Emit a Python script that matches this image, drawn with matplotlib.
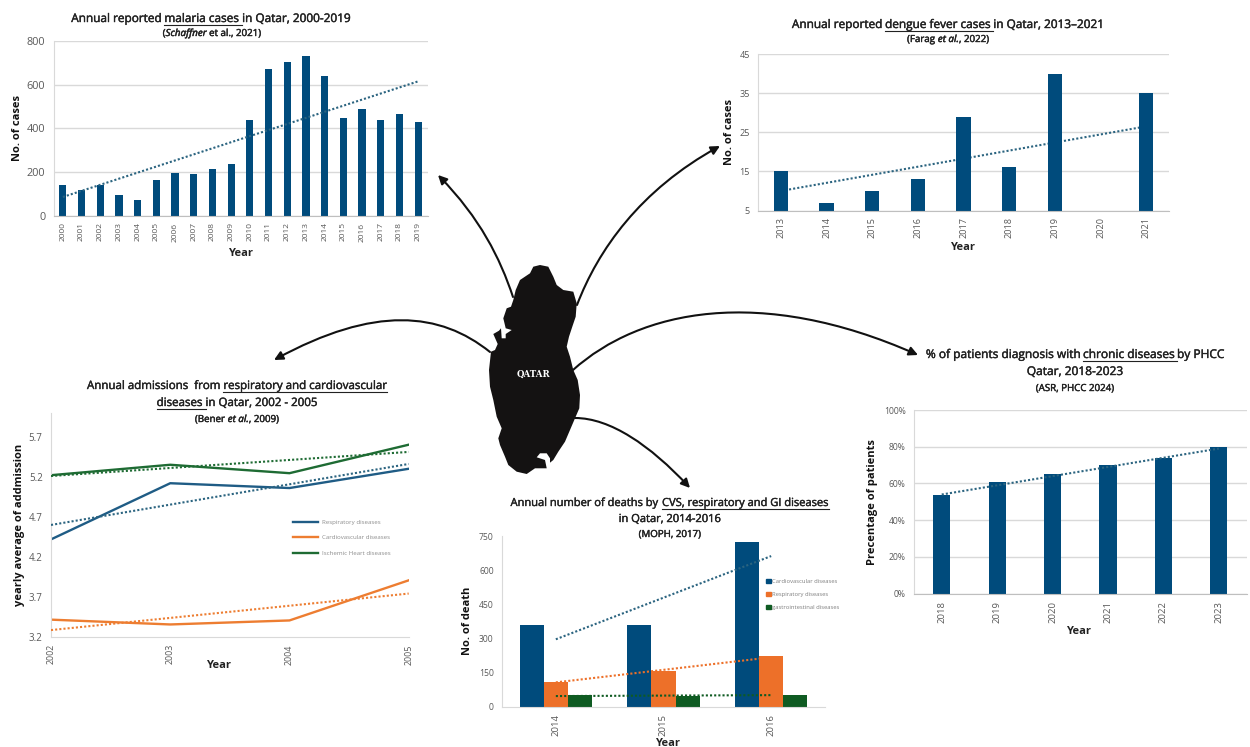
# Qatar disease burden overview: five small charts arranged around a map
import matplotlib
matplotlib.use('Agg')
import matplotlib.pyplot as plt
import matplotlib.patheffects as pe
from matplotlib.patches import FancyArrowPatch, Polygon, Patch
from matplotlib.path import Path

W, H = 1250, 747
FONT = 'Open Sans'
BLUE = '#004b7c'
ORANGE = '#ed7029'
GREEN = '#0f5b22'
TREND_BLUE = '#2b6480'
TICK = '#595959'
GRID = '#d9d9d9'

plt.rcParams['font.family'] = FONT

##################################################################
# data
malaria_years = ['2000', '2001', '2002', '2003', '2004', '2005', '2006', '2007', '2008', '2009',
                 '2010', '2011', '2012', '2013', '2014', '2015', '2016', '2017', '2018', '2019']
malaria_cases = [140, 115, 140, 95, 70, 165, 195, 190, 215, 235,
                 440, 670, 705, 730, 640, 445, 490, 440, 465, 430]
malaria_trend = [85, 615]

dengue_years = ['2013', '2014', '2015', '2016', '2017', '2018', '2019', '2020', '2021']
dengue_cases = [15, 7, 10, 13, 29, 16, 40, 0, 35]
dengue_trend = [10, 26.5]

admit_years = [2002, 2003, 2004, 2005]
admit_resp = [4.42, 5.12, 5.06, 5.30]
admit_cardio = [3.42, 3.36, 3.41, 3.91]
admit_ischemic = [5.22, 5.35, 5.245, 5.60]
admit_resp_trend = [4.60, 5.36]
admit_cardio_trend = [3.29, 3.745]
admit_ischemic_trend = [5.21, 5.51]

death_years = ['2014', '2015', '2016']
death_cardio = [360, 360, 722]
death_resp = [110, 160, 224]
death_gi = [52, 50, 52]
death_cardio_trend = [297, 662]
death_resp_trend = [108, 218]
death_gi_trend = [48, 52]

chronic_years = ['2018', '2019', '2020', '2021', '2022', '2023']
chronic_pct = [54, 61, 65, 70, 74, 80]
chronic_trend = [54, 79]

# map outline in pixel coordinates of the sheet
qatar_outline = [(540, 265), (548.3, 266.7), (553.3, 276.7), (556.7, 285), (563.3, 290), (573.3, 291.7),
                 (576.7, 303.3), (575.7, 316.7), (572.3, 326.7), (569, 336.7), (566.7, 346.7), (570, 356.7),
                 (573.3, 370), (577.7, 380), (580, 395), (579.3, 408.3), (575, 418.3), (570, 430),
                 (565, 441.7), (558.3, 451.7), (553.3, 460), (550, 462.7), (550, 458.3), (546.7, 453.3),
                 (540, 453.3), (536.7, 457.3), (545, 460), (546.7, 468.3), (535, 468.3), (526.7, 474),
                 (516.7, 471.7), (508.3, 465), (505, 456.7), (500, 445), (498.3, 438.3), (501.7, 428.3),
                 (496.7, 416.7), (493.3, 400), (490, 386.7), (489, 370), (491, 351.7), (495, 350),
                 (497.7, 344), (493.3, 334), (499, 330.7), (501, 328.3), (501.7, 338.3), (505.7, 338.3),
                 (505.7, 334), (511.7, 330), (505.7, 328.3), (503.3, 318.3), (506.7, 308.3), (511, 306.7),
                 (513.3, 300), (515.7, 290), (520, 280), (530, 273.3), (533.3, 266.7)]

fig = plt.figure(figsize=(W / 100, H / 100), dpi=100, facecolor='white')

# sheet-wide layer in pixel coordinates, y pointing down
sheet = fig.add_axes([0, 0, 1, 1], zorder=5)
sheet.set_xlim(0, W)
sheet.set_ylim(H, 0)
sheet.axis('off')
sheet.patch.set_alpha(0)
renderer = fig.canvas.get_renderer()


def panel(left, right, top, bottom):
    ax = fig.add_axes([left / W, 1 - bottom / H, (right - left) / W, (bottom - top) / H])
    for side in ['top', 'right']:
        ax.spines[side].set_visible(False)
    for side in ['left', 'bottom']:
        ax.spines[side].set_color('#bfbfbf')
    ax.tick_params(length=0)
    ax.tick_params(axis='x', labelrotation=90)
    return ax


def style_ticks(ax, xsize, ysize):
    ax.tick_params(axis='x', labelsize=xsize, labelcolor=TICK, pad=5)
    ax.tick_params(axis='y', labelsize=ysize, labelcolor=TICK, pad=6)


def grid(ax):
    ax.set_axisbelow(True)
    ax.yaxis.grid(True, color=GRID, lw=1)
    ax.spines['left'].set_color(GRID)


def labels(ax, ytext, yx, yy, xx, xy, size=8):
    ax.set_ylabel(ytext, fontsize=size, fontweight='bold', color='#111111', va='center')
    ax.yaxis.set_label_coords(yx, yy, transform=sheet.transData)
    ax.set_xlabel('Year', fontsize=size, fontweight='bold', color='#222222', va='center')
    ax.xaxis.set_label_coords(xx, xy, transform=sheet.transData)


def trend(ax, xs, ys, color, z=1.5):
    ax.plot(xs, ys, color=color, lw=1.5, ls=(0, (1, 1)), dash_capstyle='butt', zorder=z)


def seg_width(text, size, style):
    # the bar keeps trailing blanks in the measured width
    fam = 'Noto Sans' if style == 'italic' else FONT
    probe = sheet.text(0, 0, text + '|', fontsize=size, style=style, family=fam)
    bar = sheet.text(0, 0, '|', fontsize=size, style=style, family=fam)
    w = probe.get_window_extent(renderer).width - bar.get_window_extent(renderer).width
    probe.remove()
    bar.remove()
    return w


def title_line(cx, base, segments, size=8.4, color='#222222'):
    # segments are (text, underlined, style), laid out from a common centre
    total = sum(seg_width(t, size, s) for t, u, s in segments)
    x = cx - total / 2
    for t, u, s in segments:
        w = seg_width(t, size, s)
        fam = 'Noto Sans' if s == 'italic' else FONT
        txt = sheet.text(x, base, t, fontsize=size, style=s, family=fam, color=color,
                         ha='left', va='baseline')
        txt.set_path_effects([pe.withStroke(linewidth=0.3, foreground=color)])
        if u:
            sheet.plot([x, x + w], [base + 2.5, base + 2.5], color=color, lw=0.8)
        x += w


##################################################################
# malaria
ax = panel(53.5, 427.5, 41, 215.5)
x = range(len(malaria_years))
grid(ax)
ax.bar(x, malaria_cases, width=0.39, color=BLUE, zorder=2)
trend(ax, [x[0], x[-1]], malaria_trend, TREND_BLUE, z=2.5)
ax.set_xlim(-0.5, len(malaria_years) - 0.5)
ax.set_ylim(0, 800)
ax.set_yticks([0, 200, 400, 600, 800])
ax.set_xticks(list(x))
ax.set_xticklabels(malaria_years)
style_ticks(ax, 6, 7.8)
labels(ax, 'No. of cases', 17, 128, 241, 253)
title_line(211, 22, [('Annual reported ', False, 'normal'), ('malaria cases ', True, 'normal'),
                     ('in Qatar, 2000-2019', False, 'normal')], size=8.5)
title_line(212, 36, [('(', False, 'normal'), ('Schaffner', False, 'italic'),
                     (' et al., 2021)', False, 'normal')], size=7)

##################################################################
# dengue
ax = panel(758, 1169, 54, 210.5)
x = range(len(dengue_years))
grid(ax)
ax.bar(x, dengue_cases, width=0.31, color=BLUE, zorder=2)
trend(ax, [x[0], x[-1]], dengue_trend, TREND_BLUE)
ax.set_xlim(-0.5, len(dengue_years) - 0.5)
ax.set_ylim(5, 45)
ax.set_yticks([5, 15, 25, 35, 45])
ax.set_xticks(list(x))
ax.set_xticklabels(dengue_years)
style_ticks(ax, 6.6, 6.6)
labels(ax, 'No. of cases', 729, 132, 963, 248)
title_line(948, 28, [('Annual reported ', False, 'normal'), ('dengue fever cases ', True, 'normal'),
                     ('in Qatar, 2013\u20132021', False, 'normal')], size=8.5)
title_line(948, 42, [('(Farag ', False, 'normal'), ('et al.', False, 'italic'),
                     (', 2022)', False, 'normal')], size=7)

##################################################################
# hospital admissions
ax = panel(51, 408.7, 413, 637.3)
ax.spines['bottom'].set_color(GRID)
ax.spines['left'].set_color(GRID)
h1, = ax.plot(admit_years, admit_resp, color='#1f5c85', lw=1.7, label='Respiratory diseases')
h2, = ax.plot(admit_years, admit_cardio, color='#ed7d31', lw=1.7, label='Cardiovascular diseases')
h3, = ax.plot(admit_years, admit_ischemic, color='#1e6b33', lw=1.7, label='Ischemic Heart diseases')
ends = [admit_years[0], admit_years[-1]]
trend(ax, ends, admit_resp_trend, TREND_BLUE, z=3)
trend(ax, ends, admit_cardio_trend, '#ed7d31', z=3)
trend(ax, ends, admit_ischemic_trend, '#1e6b33', z=3)
ax.set_xlim(2002, 2005)
ax.set_ylim(3.2, 5.995)
ax.set_yticks([3.2, 3.7, 4.2, 4.7, 5.2, 5.7])
ax.set_xticks(admit_years)
style_ticks(ax, 6.4, 7)
labels(ax, 'yearly average of addmission', 20, 525, 219, 666)
ax.legend(handles=[h1, h2, h3], loc='center left', bbox_to_anchor=(287, 537.7),
          bbox_transform=sheet.transData, frameon=False, fontsize=4.4, labelcolor='#8c8c8c',
          labelspacing=1.7, handlelength=4.1, handletextpad=0.7)
title_line(237, 389, [('Annual admissions  from ', False, 'normal'),
                      ('respiratory and cardiovascular', True, 'normal')], size=8.3)
title_line(237, 406, [('diseases ', True, 'normal'), ('in Qatar, 2002 - 2005', False, 'normal')], size=8.3)
title_line(237, 422, [('(Bener ', False, 'normal'), ('et al.', False, 'italic'),
                      (', 2009)', False, 'normal')], size=7)

##################################################################
# deaths
ax = panel(502, 825, 536, 707)
ax.spines['bottom'].set_color(GRID)
ax.spines['left'].set_color(GRID)
x = range(len(death_years))
bw = 0.223
ax.bar([i - bw for i in x], death_cardio, width=bw, color=BLUE)
ax.bar(list(x), death_resp, width=bw, color=ORANGE)
ax.bar([i + bw for i in x], death_gi, width=bw, color=GREEN)
trend(ax, [x[0], x[-1]], death_cardio_trend, TREND_BLUE, z=3)
trend(ax, [x[0], x[-1]], death_resp_trend, ORANGE, z=3)
trend(ax, [x[0], x[-1]], death_gi_trend, GREEN, z=3)
ax.set_xlim(-0.5, len(death_years) - 0.5)
ax.set_ylim(0, 750)
ax.set_yticks([0, 150, 300, 450, 600, 750])
ax.set_xticks(list(x))
ax.set_xticklabels(death_years)
style_ticks(ax, 6.8, 6.2)
labels(ax, 'No. of death', 467, 621, 668, 743)
swatches = [Patch(color=BLUE, label='Cardiovascular diseases'),
            Patch(color=ORANGE, label='Respiratory diseases'),
            Patch(color=GREEN, label='gastrointestinal diseases')]
ax.legend(handles=swatches, loc='center left', bbox_to_anchor=(761, 594.5),
          bbox_transform=sheet.transData, frameon=False, fontsize=4.2, labelcolor='#7f7f7f',
          labelspacing=1.3, handlelength=0.75, handleheight=0.75, handletextpad=0.3)
title_line(670, 506, [('Annual number of deaths by ', False, 'normal'),
                      ('CVS, respiratory and GI diseases', True, 'normal')], size=8)
title_line(670, 522, [('in Qatar, 2014-2016', False, 'normal')], size=8)
title_line(670, 537, [('(MOPH, 2017)', False, 'normal')], size=7)

##################################################################
# chronic diseases
ax = panel(914, 1246.5, 410, 593.7)
x = range(len(chronic_years))
grid(ax)
ax.bar(x, chronic_pct, width=0.31, color=BLUE, zorder=2)
trend(ax, [x[0], x[-1]], chronic_trend, TREND_BLUE, z=2.5)
ax.set_xlim(-0.5, len(chronic_years) - 0.5)
ax.set_ylim(0, 100)
ax.set_yticks([0, 20, 40, 60, 80, 100])
ax.set_yticklabels(['0%', '20%', '40%', '60%', '80%', '100%'])
ax.set_xticks(list(x))
ax.set_xticklabels(chronic_years)
style_ticks(ax, 6.8, 6.2)
labels(ax, 'Precentage of patients', 873, 502, 1079, 632)
title_line(1075, 358, [('% of patients diagnosis with ', False, 'normal'),
                       ('chronic diseases ', True, 'normal'), ('by PHCC', False, 'normal')], size=8.6)
title_line(1075, 375, [('Qatar, 2018-2023', False, 'normal')], size=8.6)
title_line(1075, 391, [('(ASR, PHCC 2024)', False, 'normal')], size=7)

##################################################################
# map and connectors
sheet.add_patch(Polygon(qatar_outline, closed=True, fc='#141212', ec='none', zorder=4))
txt = sheet.text(533, 374, 'QATAR', fontsize=6.2, fontweight='bold', family='DejaVu Serif',
                 color='white', ha='center', va='center', zorder=4.2)

connectors = [
    [(513, 297), (500, 258), (480, 218), (438, 175)],
    [(577, 305), (598, 250), (640, 190), (720, 146)],
    [(490, 352), (440, 312), (375, 305), (274, 360)],
    [(573, 370), (640, 310), (760, 285), (918, 355)],
    [(575, 418), (610, 418), (650, 445), (690, 488)],
]
for pts in connectors:
    path = Path(pts, [Path.MOVETO, Path.CURVE4, Path.CURVE4, Path.CURVE4])
    sheet.add_patch(FancyArrowPatch(path=path, arrowstyle='-|>', mutation_scale=13, lw=1.5,
                                    color='#111111', shrinkA=0, shrinkB=0, zorder=3))

fig.savefig('out.png', dpi=100, facecolor='white')
